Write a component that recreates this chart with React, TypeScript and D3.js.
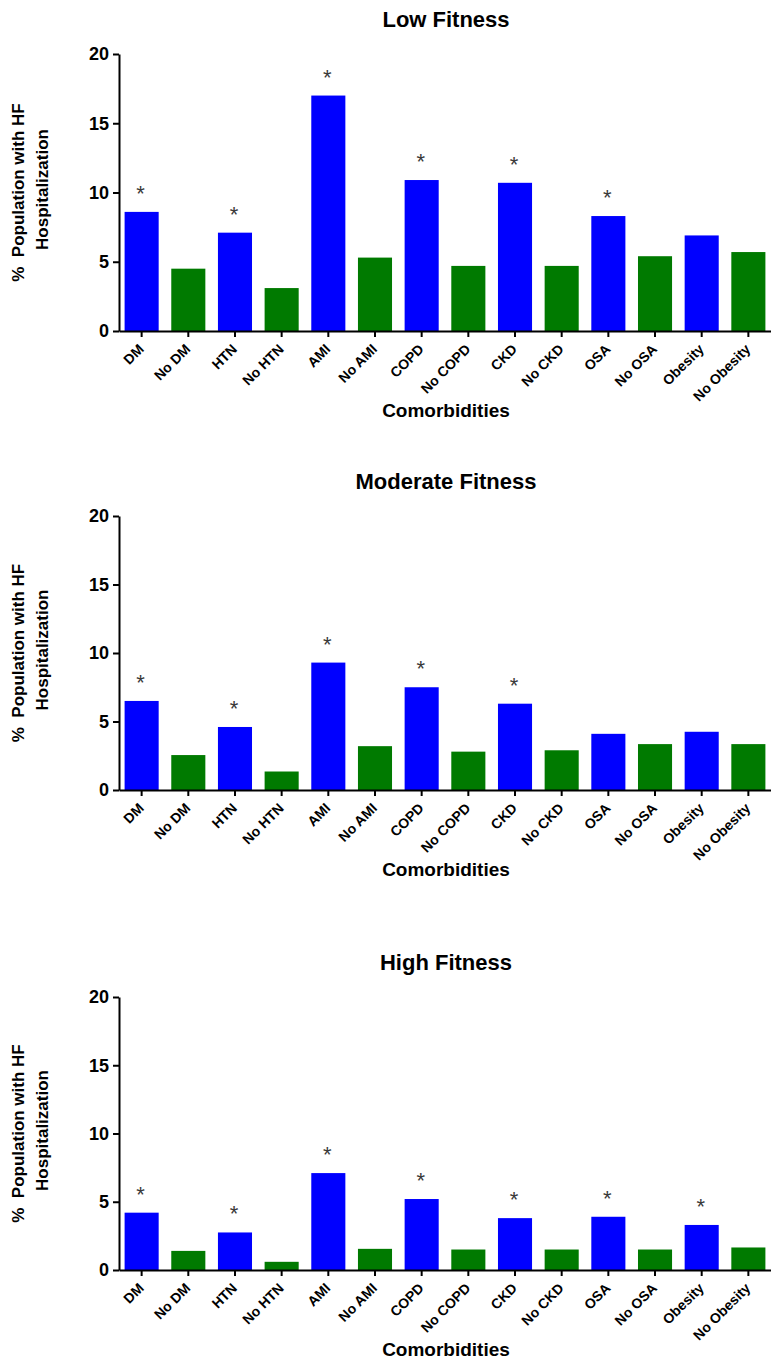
import React, { useEffect, useRef } from "react";
import * as d3 from "d3";

// categories on the x axis (blue = with the comorbidity, green = without)
const categories = [
  "DM", "No DM", "HTN", "No HTN", "AMI", "No AMI", "COPD",
  "No COPD", "CKD", "No CKD", "OSA", "No OSA", "Obesity", "No Obesity",
];

// % population with HF hospitalization
const lowFitness = [8.6, 4.5, 7.1, 3.1, 17.0, 5.3, 10.9, 4.7, 10.7, 4.7, 8.3, 5.4, 6.9, 5.7];
const moderateFitness = [6.5, 2.55, 4.6, 1.35, 9.3, 3.2, 7.5, 2.8, 6.3, 2.9, 4.1, 3.35, 4.25, 3.35];
const highFitness = [4.2, 1.4, 2.75, 0.6, 7.1, 1.55, 5.2, 1.5, 3.8, 1.5, 3.9, 1.5, 3.3, 1.65];

// categories marked with a significance star
const lowStars = ["DM", "HTN", "AMI", "COPD", "CKD", "OSA"];
const moderateStars = ["DM", "HTN", "AMI", "COPD", "CKD"];
const highStars = ["DM", "HTN", "AMI", "COPD", "CKD", "OSA", "Obesity"];

const yTicks = [0, 5, 10, 15, 20];

const FONT = "'Liberation Sans', Arial, sans-serif";
const BLUE = "#0000ff";
const GREEN = "#007a00";

const panels = [
  { title: "Low Fitness", values: lowFitness, stars: lowStars, top: 54, zero: 331 },
  { title: "Moderate Fitness", values: moderateFitness, stars: moderateStars, top: 516, zero: 790 },
  { title: "High Fitness", values: highFitness, stars: highStars, top: 997, zero: 1270 },
];

export default function App() {
  const ref = useRef<SVGSVGElement | null>(null);

  useEffect(() => {
    const svg = d3.select(ref.current);
    svg.selectAll("*").remove();

    const left = 119, right = 771;

    const x = d3.scaleBand<string>()
      .domain(categories)
      .range([left, right])
      .paddingInner(0.27)
      .paddingOuter(0.12);

    panels.forEach((p) => {
      const g = svg.append("g");
      const y = d3.scaleLinear().domain([0, 20]).range([p.zero, p.top]);

      // title
      g.append("text")
        .attr("x", (left + right) / 2 + 1)
        .attr("y", p.top - 27)
        .attr("text-anchor", "middle")
        .style("font-family", FONT)
        .style("font-weight", "bold")
        .style("font-size", "22px")
        .text(p.title);

      // bars
      g.append("g")
        .selectAll("rect")
        .data(categories)
        .enter()
        .append("rect")
        .attr("x", (d) => x(d)!)
        .attr("width", x.bandwidth())
        .attr("y", (d, i) => y(p.values[i]))
        .attr("height", (d, i) => y(0) - y(p.values[i]))
        .attr("fill", (d) => (d.startsWith("No ") ? GREEN : BLUE));

      // significance stars
      g.append("g")
        .selectAll("text")
        .data(categories.filter((c) => p.stars.includes(c)))
        .enter()
        .append("text")
        .attr("x", (d) => x(d)! + x.bandwidth() / 2 - 1)
        .attr("y", (d) => y(p.values[categories.indexOf(d)]) - 11)
        .attr("text-anchor", "middle")
        .style("font-family", FONT)
        .style("font-size", "22px")
        .style("fill", "#3a3a3a")
        .text("*");

      // y axis
      const ya = g.append("g")
        .attr("transform", `translate(${left},0)`)
        .call(d3.axisLeft(y).tickValues(yTicks).tickSize(6).tickSizeOuter(0).tickPadding(4));
      ya.select(".domain").attr("stroke-width", 2);
      ya.selectAll(".tick line").attr("stroke-width", 2);
      ya.selectAll(".tick text")
        .style("font-family", FONT)
        .style("font-weight", "bold")
        .style("font-size", "18px")
        .attr("fill", "#000");

      // x axis
      const xa = g.append("g")
        .attr("transform", `translate(0,${p.zero})`)
        .call(d3.axisBottom(x).tickSize(6).tickSizeOuter(0));
      xa.select(".domain").attr("stroke-width", 2);
      xa.selectAll(".tick line").attr("stroke-width", 2);
      xa.selectAll(".tick text")
        .attr("y", 0)
        .attr("dy", 0)
        .attr("transform", "translate(3,19) rotate(-45)")
        .attr("text-anchor", "end")
        .style("font-family", FONT)
        .style("font-weight", "bold")
        .style("font-size", "14px")
        .attr("fill", "#000");

      // x axis title
      g.append("text")
        .attr("x", (left + right) / 2 + 1)
        .attr("y", p.zero + 86)
        .attr("text-anchor", "middle")
        .style("font-family", FONT)
        .style("font-weight", "bold")
        .style("font-size", "19px")
        .text("Comorbidities");

      // y axis title (two lines)
      const mid = (p.top + p.zero) / 2;
      g.append("text")
        .attr("transform", `translate(24,${mid}) rotate(-90)`)
        .attr("text-anchor", "middle")
        .style("font-family", FONT)
        .style("font-weight", "bold")
        .style("font-size", "17px")
        .style("white-space", "pre")
        .text("%  Population with HF");
      g.append("text")
        .attr("transform", `translate(48,${mid - 3}) rotate(-90)`)
        .attr("text-anchor", "middle")
        .style("font-family", FONT)
        .style("font-weight", "bold")
        .style("font-size", "17px")
        .text("Hospitalization");
    });
  }, []);

  return (
    <svg
      ref={ref}
      width={771}
      height={1361}
      style={{ position: "absolute", left: 0, top: 0, background: "#fff" }}
    />
  );
}
